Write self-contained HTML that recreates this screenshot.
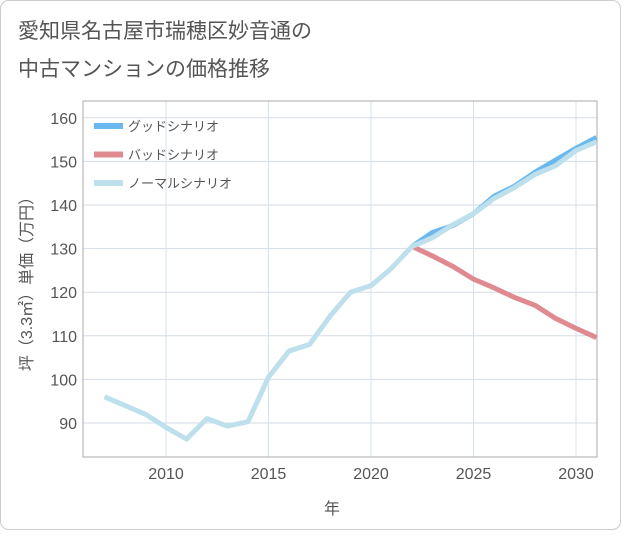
<!DOCTYPE html>
<html><head><meta charset="utf-8"><style>
body{margin:0;background:#fff}
#wrap{width:621px;height:530px;position:relative;font-family:"Liberation Sans","Noto Sans CJK JP",sans-serif}
</style></head><body>
<div id="wrap">
<svg id="svg" width="621" height="530" xmlns="http://www.w3.org/2000/svg">
<rect x="0.5" y="0.5" width="620" height="529" rx="8" fill="#fff" stroke="#ccc"/>
<text x="18" y="38" font-size="21" fill="#555">愛知県名古屋市瑞穂区妙音通の</text>
<text x="18" y="76" font-size="21" fill="#555">中古マンションの価格推移</text>
<g id="grid"></g>
<g id="series"></g>
<g id="legend"></g>
<text x="332" y="514" font-size="16" fill="#555" text-anchor="middle">年</text>
<text transform="translate(32,280) rotate(-90)" font-size="16" fill="#555" text-anchor="middle">坪（3.3㎡）単価（万円）</text>
</svg></div>
<script>
const years=[2007,2008,2009,2010,2011,2012,2013,2014,2015,2016,2017,2018,2019,2020,2021,2022,2023,2024,2025,2026,2027,2028,2029,2030,2031];
const normal=[96,94,92,89,86.3,91,89.3,90.3,100.5,106.5,108,114.5,120,121.5,125.5,130.5,132.5,135.5,138,141.5,144,147,149,152.5,154.5];
const goodYears=[2022,2023,2024,2025,2026,2027,2028,2029,2030,2031];
const good=[130.5,133.7,135.3,138,142,144.3,147.5,150.3,153,155.5];
const bad=[130.5,128.3,125.9,123,121,118.8,117,114,111.7,109.6];
const xTicks=[2010,2015,2020,2025,2030];
const yTicks=[90,100,110,120,130,140,150,160];
const L=83,R=597,T=101,B=457;
const x=v=>166+(v-2010)*20.5;
const y=v=>423-(v-90)*4.36;
const NS="http://www.w3.org/2000/svg";
function mk(t,a,p){const e=document.createElementNS(NS,t);for(const k in a)e.setAttribute(k,a[k]);p.appendChild(e);return e;}
const g=document.getElementById('grid');
yTicks.forEach(v=>{const l=mk('line',{x1:L,x2:R,y1:y(v),y2:y(v),stroke:'#d5dde6'},g);


const t=mk('text',{x:L-6,y:y(v)+6,'font-size':16,fill:'#555','text-anchor':'end'},g);t.textContent=v;

});
xTicks.forEach(v=>{const l=mk('line',{x1:x(v),x2:x(v),y1:T,y2:B,stroke:'#d5e3ee'},g);


const t=mk('text',{x:x(v),y:B+22,'font-size':16,fill:'#555','text-anchor':'middle'},g);t.textContent=v;

});
const fr=mk('rect',{x:L,y:T,width:R-L,height:B-T,fill:'none',stroke:'#aaa'},g);


const s=document.getElementById('series');
const clip=mk('clipPath',{id:'c'},s);mk('rect',{x:L,y:T,width:R-L,height:B-T},clip);
function line(xs,vs,col,name){const p=mk('polyline',{points:xs.map((v,i)=>x(v)+','+y(vs[i])).join(' '),fill:'none',stroke:col,'stroke-width':5,'stroke-linejoin':'round','clip-path':'url(#c)'},s);

}
line(goodYears,good,'#6bb8ef','good-scenario-line');
line(goodYears,bad,'#de8a90','bad-scenario-line');
line(years,normal,'#bde0ec','normal-scenario-line');
const lg=document.getElementById('legend');
[['グッドシナリオ','#6bb8ef','legend-good'],['バッドシナリオ','#de8a90','legend-bad'],['ノーマルシナリオ','#bde0ec','legend-normal']].forEach((d,i)=>{
const gg=mk('g',{},lg);


const yy=126+i*28.5;
mk('rect',{x:94,y:yy-3,width:29,height:6,fill:d[1]},gg);
const t=mk('text',{x:128,y:yy+5,'font-size':13,fill:'#555'},gg);t.textContent=d[0];});
</script>
</body></html>
